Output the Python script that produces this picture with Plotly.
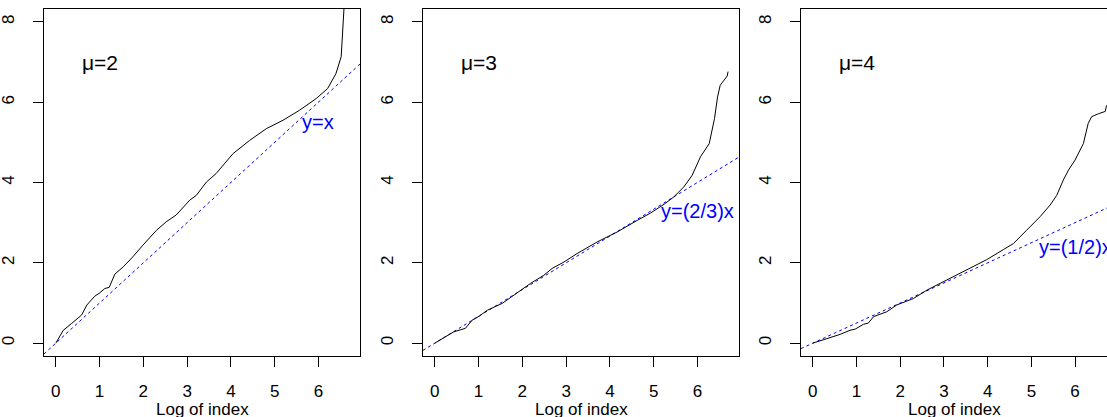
import plotly.graph_objects as go
import numpy as np

# ---- data ----
MU_LABELS = ["μ=2", "μ=3", "μ=4"]
LINE_LABELS = ["y=x", "y=(2/3)x", "y=(1/2)x"]
SLOPES = [1.0, 2.0 / 3.0, 0.5]
LABEL_Y = [5.5, 3.3, 2.4]

X1 = [0, 0.17, 0.36, 0.59, 0.71, 0.89, 0.99, 1.12, 1.22, 1.35, 1.54, 1.76, 1.99, 2.30,
      2.52, 2.75, 3.06, 3.21, 3.44, 3.66, 4.05, 4.43, 4.81, 5.19, 5.57, 5.95, 6.21,
      6.40, 6.52, 6.56, 6.59, 6.62]
Y1 = [0, 0.32, 0.49, 0.70, 0.95, 1.17, 1.24, 1.36, 1.39, 1.72, 1.90, 2.15, 2.44, 2.81,
      3.02, 3.19, 3.56, 3.68, 4.01, 4.22, 4.72, 5.05, 5.34, 5.55, 5.80, 6.09, 6.34,
      6.71, 7.13, 7.71, 8.32, 9.0]

X2 = [0, 0.43, 0.70, 0.85, 1.01, 1.20, 1.54, 1.81, 2.19, 2.49, 2.68, 2.95, 3.25, 3.71,
      4.17, 4.63, 4.93, 5.24, 5.46, 5.69, 5.88, 6.07, 6.27, 6.39, 6.46, 6.52, 6.61,
      6.68, 6.70]
Y2 = [0, 0.28, 0.37, 0.57, 0.67, 0.82, 0.99, 1.20, 1.49, 1.69, 1.86, 2.02, 2.23, 2.52,
      2.77, 3.06, 3.24, 3.46, 3.64, 3.89, 4.18, 4.64, 4.97, 5.59, 6.13, 6.42, 6.55,
      6.65, 6.76]

X3 = [0, 0.17, 0.36, 0.63, 0.85, 0.97, 1.16, 1.27, 1.39, 1.69, 1.92, 2.11, 2.30, 2.61,
      3.06, 3.52, 3.98, 4.36, 4.59, 4.89, 5.20, 5.43, 5.58, 5.73, 5.85, 6.00, 6.19,
      6.30, 6.38, 6.53, 6.69, 6.72]
Y3 = [0, 0.06, 0.14, 0.22, 0.32, 0.35, 0.47, 0.50, 0.66, 0.78, 0.95, 1.03, 1.11, 1.32,
      1.57, 1.82, 2.08, 2.33, 2.48, 2.81, 3.15, 3.44, 3.68, 4.06, 4.31, 4.56, 4.97,
      5.47, 5.64, 5.71, 5.77, 5.92]

XS = [X1, X2, X3]
YS = [Y1, Y2, Y3]
X_TICKS = [0, 1, 2, 3, 4, 5, 6]
Y_TICKS = [0, 2, 4, 6, 8]
X_TITLE = "Log of index"

# ---- layout geometry ----
W, H = 1107, 417
XRANGES = [[-0.27, 6.95], [-0.27, 6.95], [-0.27, 6.73]]
YRANGE = [-0.32, 8.32]
XDOMAINS = [[44 / W, 360 / W], [423 / W, 739 / W], [801 / W, 1.0]]
YDOMAIN = [1 - 356 / H, 1 - 9 / H]
FONT = "Liberation Sans, Arial, Helvetica, sans-serif"

fig = go.Figure()
annotations = []
for i in range(3):
    ax = "" if i == 0 else str(i + 1)
    xr = np.array(XRANGES[i])
    # abline across the panel
    fig.add_trace(go.Scatter(x=xr, y=SLOPES[i] * xr, mode="lines",
                             line=dict(color="#0000FF", width=1, dash="3px,3px"),
                             xaxis="x" + ax, yaxis="y" + ax, showlegend=False,
                             hoverinfo="skip"))
    fig.add_trace(go.Scatter(x=XS[i], y=YS[i], mode="lines",
                             line=dict(color="black", width=1),
                             xaxis="x" + ax, yaxis="y" + ax, showlegend=False))
    common = dict(showgrid=False, zeroline=False, showline=True, linecolor="black",
                  linewidth=1, ticks="outside", ticklen=10, tickcolor="black",
                  tickwidth=1, automargin=False,
                  tickfont=dict(family=FONT, size=17, color="black"))
    fig.layout["xaxis" + ax] = dict(domain=XDOMAINS[i], range=XRANGES[i],
                                    tickvals=X_TICKS, mirror=True,
                                    anchor="y" + ax, ticklabelstandoff=10, **common)
    fig.layout["yaxis" + ax] = dict(domain=YDOMAIN, range=YRANGE, tickvals=Y_TICKS,
                                    mirror=(i < 2), tickangle=-90,
                                    anchor="x" + ax, ticklabelstandoff=12, **common)
    annotations.append(dict(x=1, y=7, xref="x" + ax, yref="y" + ax, text=MU_LABELS[i],
                            showarrow=False, xanchor="center", yanchor="middle",
                            font=dict(family=FONT, size=21, color="black")))
    annotations.append(dict(x=6, y=LABEL_Y[i], xref="x" + ax, yref="y" + ax,
                            text=LINE_LABELS[i], showarrow=False, xanchor="center",
                            yanchor="middle",
                            font=dict(family=FONT, size=20, color="#0000FF")))
    annotations.append(dict(x=0.5, y=1 - 398 / H, xref="x" + ax + " domain",
                            yref="paper", text=X_TITLE, showarrow=False,
                            xanchor="center", yanchor="top",
                            font=dict(family=FONT, size=17, color="black")))

fig.update_layout(width=W, height=H, margin=dict(l=0, r=0, t=0, b=0),
                  paper_bgcolor="white", plot_bgcolor="white",
                  annotations=annotations, showlegend=False)
fig.write_html("out.html", config={"displayModeBar": False},
               post_script="document.body.style.margin='0';"
                           "document.body.style.overflow='hidden';")
